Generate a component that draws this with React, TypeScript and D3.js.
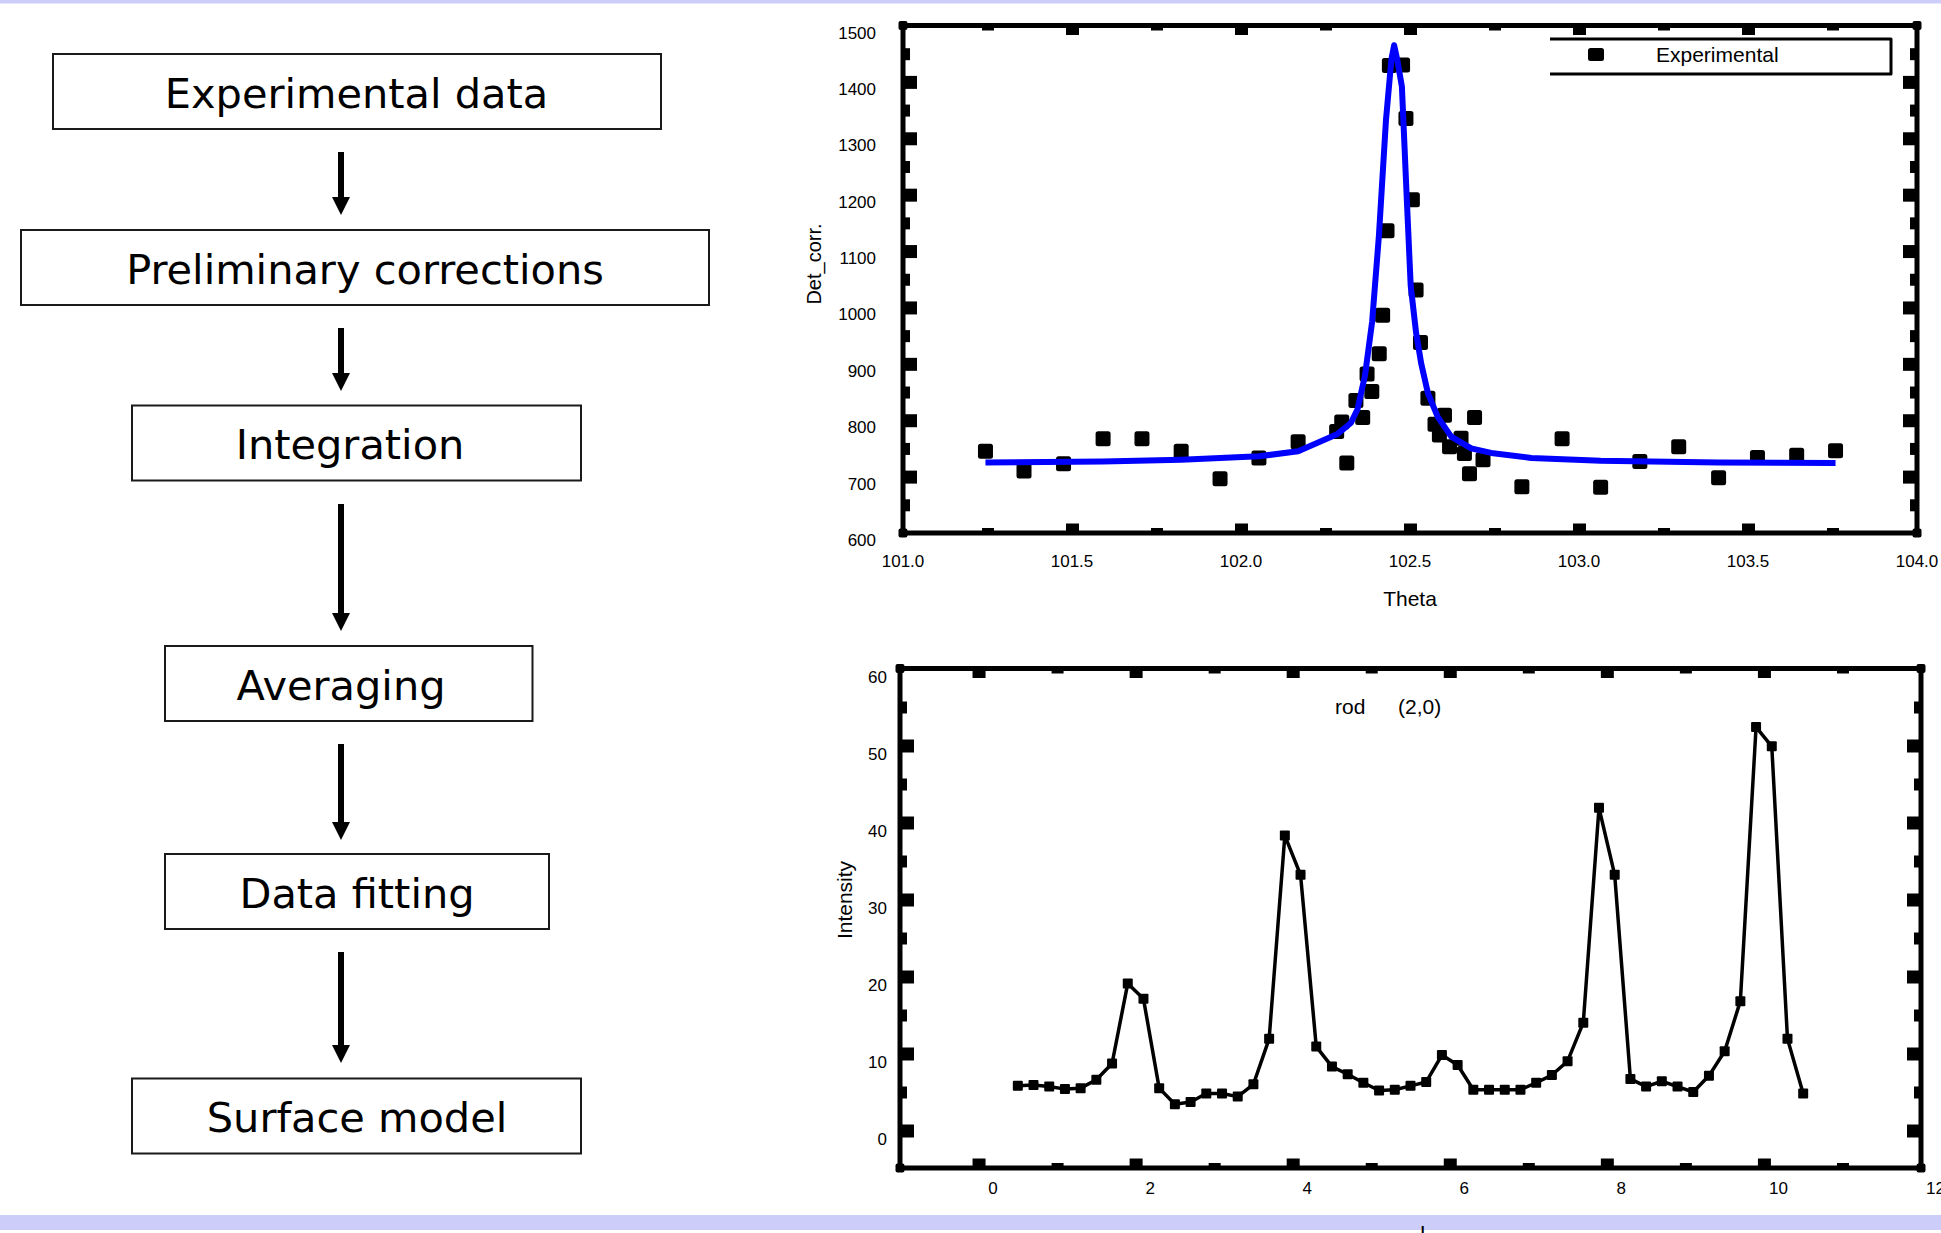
import React, { useEffect, useRef } from "react";
import * as d3 from "d3";

// flow chart steps
const steps = [
  "Experimental data",
  "Preliminary corrections",
  "Integration",
  "Averaging",
  "Data fitting",
  "Surface model",
];

// rocking scan: measured points
const thetaExp = [
  101.244, 101.358, 101.475, 101.592, 101.707, 101.823, 101.938, 102.053, 102.169, 102.283,
  102.298, 102.313, 102.34, 102.36, 102.373, 102.387, 102.409, 102.419, 102.432, 102.439,
  102.478, 102.488, 102.507, 102.518, 102.531, 102.553, 102.574, 102.587, 102.602, 102.617,
  102.651, 102.661, 102.676, 102.691, 102.716, 102.831, 102.95, 103.064, 103.18, 103.295,
  103.413, 103.528, 103.644, 103.759,
];
const detExp = [
  745, 710, 723, 767, 767, 745, 696, 733, 762, 780,
  797, 724, 835, 805, 882, 851, 918, 986, 1136, 1429,
  1430, 1335, 1191, 1031, 938, 839, 793, 774, 809, 753,
  768, 741, 705, 805, 730, 682, 767, 681, 727, 753,
  698, 734, 738, 746,
];

// rocking scan: fitted curve
const thetaFit = [
  101.244, 101.592, 101.823, 102.053, 102.169, 102.284, 102.325, 102.345, 102.367, 102.388,
  102.408, 102.429, 102.445, 102.453, 102.462, 102.476, 102.491, 102.502, 102.518, 102.533,
  102.553, 102.582, 102.622, 102.681, 102.74, 102.859, 103.064, 103.413, 103.759,
];
const detFit = [
  725, 727, 730, 736, 745, 775, 795, 820, 880, 975,
  1127, 1333, 1440, 1465, 1440, 1392, 1186, 1039, 955, 901,
  848, 806, 771, 750, 742, 733, 728, 725, 724,
];

const thetaTicks = [101.0, 101.5, 102.0, 102.5, 103.0, 103.5, 104.0];
const thetaMinor = [101.25, 101.75, 102.25, 102.75, 103.25, 103.75];
const detTicks = [600, 700, 800, 900, 1000, 1100, 1200, 1300, 1400, 1500];
const detMinor = [650, 750, 850, 950, 1050, 1150, 1250, 1350, 1450];

// rod (2,0)
const lValues = [
  0.5, 0.7, 0.9, 1.1, 1.3, 1.5, 1.7, 1.9, 2.1, 2.3,
  2.5, 2.7, 2.9, 3.1, 3.3, 3.5, 3.7, 3.9, 4.1, 4.3,
  4.5, 4.7, 4.9, 5.1, 5.3, 5.5, 5.7, 5.9, 6.1, 6.3,
  6.5, 6.7, 6.9, 7.1, 7.3, 7.5, 7.7, 7.9, 8.1, 8.3,
  8.5, 8.7, 8.9, 9.1, 9.3, 9.5, 9.7, 9.9, 10.1, 10.3,
  10.5,
];
const intensity = [
  5.8, 5.9, 5.7, 5.4, 5.5, 6.6, 8.7, 19.1, 17.1, 5.5,
  3.4, 3.7, 4.8, 4.8, 4.4, 6.0, 11.9, 38.3, 33.2, 10.9,
  8.3, 7.3, 6.2, 5.2, 5.3, 5.8, 6.3, 9.8, 8.5, 5.3,
  5.3, 5.3, 5.3, 6.2, 7.2, 9.0, 14.0, 41.9, 33.2, 6.7,
  5.7, 6.4, 5.7, 5.0, 7.1, 10.3, 16.8, 52.4, 49.9, 11.9,
  4.8,
];

const lTicks = [0, 2, 4, 6, 8, 10, 12];
const lMinor = [1, 3, 5, 7, 9, 11];
const intensityTicks = [0, 10, 20, 30, 40, 50, 60];
const intensityMinor = [5, 15, 25, 35, 45, 55];

const W = 1941;
const H = 1233;
const LAVENDER = "#cdcdfa";
const SANS = "'Liberation Sans', Arial, sans-serif";

// flow chart geometry
const boxes = [
  { x: 53, y: 54, w: 608, tx: 356.5 },
  { x: 21, y: 230, w: 688, tx: 365 },
  { x: 132, y: 405.5, w: 449, tx: 350 },
  { x: 165, y: 646, w: 367.5, tx: 341 },
  { x: 165, y: 854, w: 384, tx: 357 },
  { x: 132, y: 1078.5, w: 449, tx: 357 },
];
const boxH = 75;
const arrows = [
  [152, 215],
  [328, 391],
  [504, 631],
  [744, 840],
  [952, 1063],
];

function frame(g, x, y, xMajor, xMinor, yMajor, yMinor) {
  const [x0, x1] = x.range();
  const [y0, y1] = y.range(); // y0 bottom, y1 top
  const [xa, xb] = x.domain();
  const [ya, yb] = y.domain();
  // tick marks sitting on a frame corner only leave a small blob
  const inX = (v) => v > xa && v < xb;
  const inY = (v) => v > ya && v < yb;

  g.append("rect")
    .attr("x", x0)
    .attr("y", y1)
    .attr("width", x1 - x0)
    .attr("height", y0 - y1)
    .attr("fill", "none")
    .attr("stroke", "#000")
    .attr("stroke-width", 5);

  const ticks = (sel, axis, values, size, width) => {
    sel
      .call(axis.tickValues(values).tickSize(-size).tickFormat(() => ""))
      .call((s) => s.select(".domain").remove())
      .call((s) => s.selectAll("line").attr("stroke", "#000").attr("stroke-width", width));
  };

  const left = () => g.append("g").attr("transform", `translate(${x0},0)`);
  const right = () => g.append("g").attr("transform", `translate(${x1},0)`);
  const top = () => g.append("g").attr("transform", `translate(0,${y1})`);
  const bottom = () => g.append("g").attr("transform", `translate(0,${y0})`);

  const yM = yMajor.filter(inY);
  const xM = xMajor.filter(inX);
  ticks(left(), d3.axisLeft(y), yM, 14, 13);
  ticks(left(), d3.axisLeft(y), yMinor, 7, 12);
  ticks(right(), d3.axisRight(y), yM, 14, 13);
  ticks(right(), d3.axisRight(y), yMinor, 7, 12);
  ticks(top(), d3.axisTop(x), xM, 9.5, 13);
  ticks(top(), d3.axisTop(x), xMinor, 5, 12);
  ticks(bottom(), d3.axisBottom(x), xM, 9.5, 13);
  ticks(bottom(), d3.axisBottom(x), xMinor, 5, 12);

  // small corner blobs
  [
    [x0, y1],
    [x1, y1],
    [x0, y0],
    [x1, y0],
  ].forEach(([cx, cy]) => {
    g.append("rect")
      .attr("x", cx - 4.5)
      .attr("y", cy - 4.5)
      .attr("width", 9)
      .attr("height", 9)
      .attr("rx", 2)
      .attr("fill", "#000");
  });
}

const App = () => {
  const svgRef = useRef(null);

  useEffect(() => {
    const svg = d3.select(svgRef.current);
    svg.selectAll("*").remove();

    svg.append("rect").attr("width", W).attr("height", H).attr("fill", "#fff");
    svg.append("rect").attr("width", W).attr("height", 3.5).attr("fill", LAVENDER);
    svg.append("rect").attr("y", 1215).attr("width", W).attr("height", 15).attr("fill", LAVENDER);

    // ---- flow chart ----
    const flow = svg.append("g");
    flow
      .selectAll("rect")
      .data(steps)
      .enter()
      .append("rect")
      .attr("x", (d, i) => boxes[i].x)
      .attr("y", (d, i) => boxes[i].y)
      .attr("width", (d, i) => boxes[i].w)
      .attr("height", boxH)
      .attr("fill", "#fff")
      .attr("stroke", "#1a1a1a")
      .attr("stroke-width", 2);

    flow
      .selectAll("text")
      .data(steps)
      .enter()
      .append("text")
      .attr("x", (d, i) => boxes[i].tx)
      .attr("y", (d, i) => boxes[i].y + boxH / 2 + 16)
      .attr("text-anchor", "middle")
      .style("font-family", "'DejaVu Sans', Verdana, sans-serif")
      .style("font-size", "41.5px")
      .attr("fill", "#000")
      .text((d) => d);

    arrows.forEach(([a, b]) => {
      flow
        .append("line")
        .attr("x1", 341)
        .attr("x2", 341)
        .attr("y1", a)
        .attr("y2", b - 15)
        .attr("stroke", "#000")
        .attr("stroke-width", 6);
      flow
        .append("path")
        .attr("d", `M${332},${b - 18}L${350},${b - 18}L${341},${b}Z`)
        .attr("fill", "#000");
    });

    // ---- top chart: rocking scan ----
    const x1 = d3.scaleLinear().domain([101, 104]).range([903, 1917]);
    const y1 = d3.scaleLinear().domain([600, 1500]).range([533, 25.5]);
    const top = svg.append("g");

    top
      .selectAll("rect.pt")
      .data(thetaExp)
      .enter()
      .append("rect")
      .attr("class", "pt")
      .attr("x", (d) => x1(d) - 7.5)
      .attr("y", (d, i) => y1(detExp[i]) - 7.5)
      .attr("width", 15)
      .attr("height", 15)
      .attr("rx", 2.5)
      .attr("fill", "#000");

    const fitLine = d3
      .line()
      .x((d) => x1(d[0]))
      .y((d) => y1(d[1]));
    top
      .append("path")
      .datum(thetaFit.map((t, i) => [t, detFit[i]]))
      .attr("d", fitLine)
      .attr("fill", "none")
      .attr("stroke", "#0000ff")
      .attr("stroke-width", 6)
      .attr("stroke-linejoin", "round");

    frame(top, x1, y1, thetaTicks, thetaMinor, detTicks, detMinor);

    top
      .selectAll("text.xl")
      .data(thetaTicks)
      .enter()
      .append("text")
      .attr("class", "xl")
      .attr("x", (d) => x1(d))
      .attr("y", 567)
      .attr("text-anchor", "middle")
      .style("font-family", SANS)
      .style("font-size", "17px")
      .text((d) => d3.format(".1f")(d));

    top
      .selectAll("text.yl")
      .data(detTicks)
      .enter()
      .append("text")
      .attr("class", "yl")
      .attr("x", 876)
      .attr("y", (d) => y1(d) + 13)
      .attr("text-anchor", "end")
      .style("font-family", SANS)
      .style("font-size", "17px")
      .text((d) => d);

    top
      .append("text")
      .attr("x", 1410)
      .attr("y", 606)
      .attr("text-anchor", "middle")
      .style("font-family", SANS)
      .style("font-size", "21px")
      .text("Theta");

    top
      .append("text")
      .attr("transform", "translate(821,264) rotate(-90)")
      .attr("text-anchor", "middle")
      .style("font-family", SANS)
      .style("font-size", "20px")
      .text("Det_corr.");

    // legend
    const legend = top.append("g");
    legend
      .append("rect")
      .attr("x", 1550)
      .attr("y", 39)
      .attr("width", 341)
      .attr("height", 35)
      .attr("fill", "#fff");
    legend
      .append("path")
      .attr("d", "M1550,39H1891V74H1550")
      .attr("fill", "none")
      .attr("stroke", "#000")
      .attr("stroke-width", 3)
      .attr("stroke-linejoin", "round");
    legend
      .append("rect")
      .attr("x", 1588)
      .attr("y", 48)
      .attr("width", 16)
      .attr("height", 13)
      .attr("rx", 2.5)
      .attr("fill", "#000");
    legend
      .append("text")
      .attr("x", 1656)
      .attr("y", 61.5)
      .style("font-family", SANS)
      .style("font-size", "21px")
      .text("Experimental");

    // ---- bottom chart: rod (2,0) ----
    const x2 = d3.scaleLinear().domain([-1, 12]).range([900, 1921]);
    const y2 = d3.scaleLinear().domain([-4.87, 60]).range([1168, 668.5]);
    const bot = svg.append("g");

    const rodLine = d3
      .line()
      .x((d) => x2(d[0]))
      .y((d) => y2(d[1]));
    bot
      .append("path")
      .datum(lValues.map((l, i) => [l, intensity[i]]))
      .attr("d", rodLine)
      .attr("fill", "none")
      .attr("stroke", "#000")
      .attr("stroke-width", 3.5)
      .attr("stroke-linejoin", "round");

    bot
      .selectAll("rect.pt")
      .data(lValues)
      .enter()
      .append("rect")
      .attr("class", "pt")
      .attr("x", (d) => x2(d) - 5)
      .attr("y", (d, i) => y2(intensity[i]) - 5)
      .attr("width", 10)
      .attr("height", 10)
      .attr("rx", 1)
      .attr("fill", "#000");

    frame(bot, x2, y2, lTicks, lMinor, intensityTicks, intensityMinor);

    bot
      .selectAll("text.xl")
      .data(lTicks)
      .enter()
      .append("text")
      .attr("class", "xl")
      .attr("x", (d) => x2(d) + 14.5)
      .attr("y", 1194)
      .attr("text-anchor", "middle")
      .style("font-family", SANS)
      .style("font-size", "17px")
      .text((d) => d);

    bot
      .selectAll("text.yl")
      .data(intensityTicks)
      .enter()
      .append("text")
      .attr("class", "yl")
      .attr("x", 887)
      .attr("y", (d) => y2(d) + 14)
      .attr("text-anchor", "end")
      .style("font-family", SANS)
      .style("font-size", "17px")
      .text((d) => d);

    bot
      .append("text")
      .attr("transform", "translate(851.5,900) rotate(-90)")
      .attr("text-anchor", "middle")
      .style("font-family", SANS)
      .style("font-size", "21px")
      .text("Intensity");

    bot
      .append("text")
      .attr("x", 1335)
      .attr("y", 714)
      .style("font-family", SANS)
      .style("font-size", "21px")
      .text("rod");
    bot
      .append("text")
      .attr("x", 1398)
      .attr("y", 714)
      .style("font-family", SANS)
      .style("font-size", "21px")
      .text("(2,0)");

    // x-axis title, cut off by the bottom of the slide as in the original
    bot
      .append("text")
      .attr("x", 1420)
      .attr("y", 1240)
      .style("font-family", SANS)
      .style("font-size", "21px")
      .text("L");
  }, []);

  return (
    <svg
      ref={svgRef}
      width={W}
      height={H}
      style={{ position: "absolute", left: 0, top: 0, display: "block" }}
    ></svg>
  );
};

export default App;
